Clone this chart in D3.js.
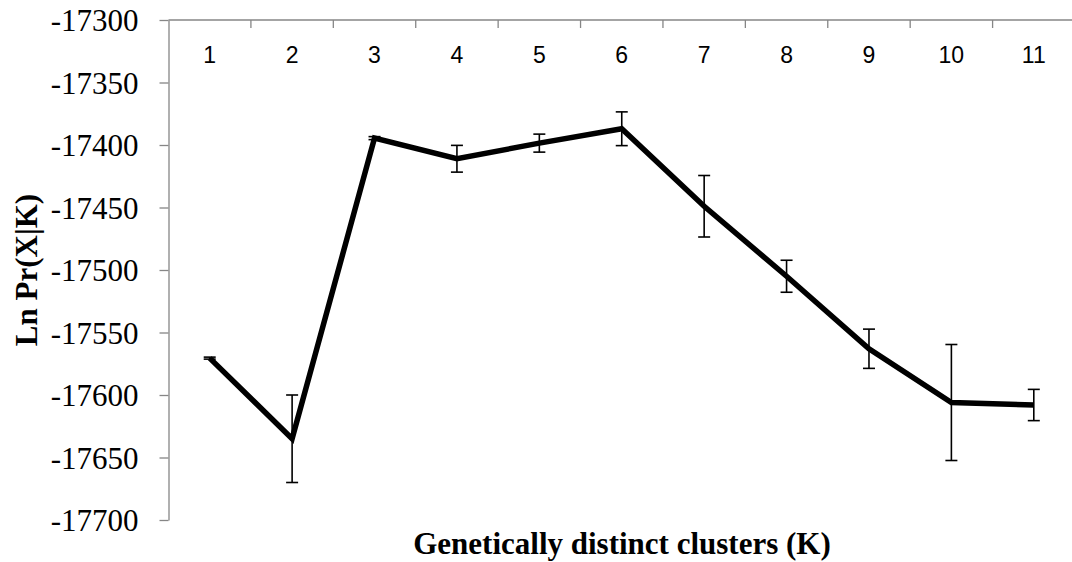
<!DOCTYPE html>
<html><head><meta charset="utf-8">
<script src="https://cdn.jsdelivr.net/npm/d3@7/dist/d3.min.js"></script>
<style>body{margin:0;background:#fff}svg{display:block}</style>
</head><body>
<svg id="c" width="1072" height="562"></svg>
<script>
const categories = [1,2,3,4,5,6,7,8,9,10,11];
const meanLnP = [-17570.5,-17635,-17394.5,-17411,-17398.5,-17387,-17449,-17505,-17563,-17606,-17608];
const sdLnP = [0.8,35,1.2,10.7,7.2,13.5,24.6,12.8,15.7,46.4,12.5];
const yTicks = [-17300,-17350,-17400,-17450,-17500,-17550,-17600,-17650,-17700];

const svg = d3.select('#c');
const axisColor = '#868686';
const x = d3.scaleBand().domain(categories).range([168.5, 1075]).padding(0);
const y = d3.scaleLinear().domain([-17700,-17300]).range([520, 20]);
const cx = k => x(k) + x.bandwidth()/2;

// Y axis
const ya = svg.append('g').attr('transform','translate(168.5,0)')
  .call(d3.axisLeft(y).tickValues(yTicks).tickSize(9).tickSizeOuter(0).tickPadding(21).tickFormat(d => String(d)));
ya.select('.domain').attr('stroke', axisColor).attr('stroke-width',1.3);
ya.selectAll('.tick line').attr('stroke', axisColor).attr('stroke-width',1.3);
ya.selectAll('.tick text').attr('font-family','"Liberation Serif","Times New Roman",serif').attr('font-size',31).attr('fill','#000').attr('dy','0.34em');

// X axis at top
const xa = svg.append('g');
xa.append('line').attr('x1',168.5).attr('x2',1075).attr('y1',20).attr('y2',20).attr('stroke',axisColor).attr('stroke-width',1.3);
xa.selectAll('line.t').data(categories.slice(1)).join('line').attr('class','t')
  .attr('x1',d=>x(d)).attr('x2',d=>x(d)).attr('y1',20).attr('y2',28).attr('stroke',axisColor).attr('stroke-width',1.3);
xa.selectAll('text').data(categories).join('text')
  .attr('x',d=>cx(d)).attr('y',63).attr('text-anchor','middle')
  .attr('font-family','"Liberation Sans",Arial,sans-serif').attr('font-size',23).attr('fill','#000').text(d=>d);

const data = categories.map((k,i)=>({k, m:meanLnP[i], s:sdLnP[i]}));

// Line
svg.append('path').datum(data)
  .attr('d', d3.line().x(d=>cx(d.k)).y(d=>y(d.m)))
  .attr('fill','none').attr('stroke','#000').attr('stroke-width',5.5);

// Error bars
const eb = svg.append('g').attr('stroke','#000').attr('stroke-width',1.6);
eb.selectAll('line.v').data(data).join('line').attr('class','v')
  .attr('x1',d=>cx(d.k)).attr('x2',d=>cx(d.k)).attr('y1',d=>y(d.m+d.s)).attr('y2',d=>y(d.m-d.s));
eb.selectAll('line.top').data(data).join('line').attr('class','top')
  .attr('x1',d=>cx(d.k)-6).attr('x2',d=>cx(d.k)+6).attr('y1',d=>y(d.m+d.s)).attr('y2',d=>y(d.m+d.s));
eb.selectAll('line.bot').data(data).join('line').attr('class','bot')
  .attr('x1',d=>cx(d.k)-6).attr('x2',d=>cx(d.k)+6).attr('y1',d=>y(d.m-d.s)).attr('y2',d=>y(d.m-d.s));

// Axis titles
svg.append('text').attr('x',622).attr('y',554).attr('text-anchor','middle')
  .attr('font-family','"Liberation Serif","Times New Roman",serif').attr('font-weight','bold').attr('font-size',31)
  .text('Genetically distinct clusters (K)');
svg.append('text').attr('transform','translate(37,270) rotate(-90)').attr('text-anchor','middle')
  .attr('font-family','"Liberation Serif","Times New Roman",serif').attr('font-weight','bold').attr('font-size',31)
  .text('Ln Pr(X|K)');
</script>
</body></html>
